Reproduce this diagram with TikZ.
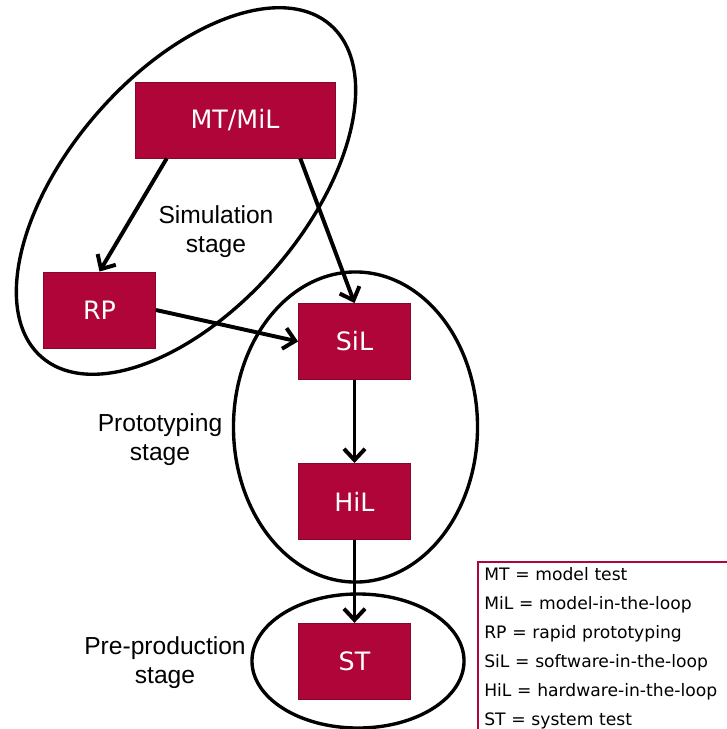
\documentclass[tikz,border=0pt]{standalone}
\usepackage{fontspec}
\setmainfont{Liberation Sans}
\newfontfamily\boxfont{DejaVu Sans}
\usetikzlibrary{arrows.meta,calc}
\usetikzlibrary{positioning}
\definecolor{crimson}{RGB}{176,5,56}
\definecolor{darkcrimson}{RGB}{130,10,45}
\tikzstyle{testbox} = [rectangle, fill=crimson, draw=darkcrimson, line width=0.6pt, minimum width=2.8cm, minimum height=1.9cm, text=white, font=\boxfont\fontsize{18}{21}\selectfont]
\tikzstyle{stagelabel} = [align=center, inner sep=0pt, font=\fontsize{17.5}{20.6}\selectfont]
\tikzstyle{stagering} = [draw=black, line width=2.4pt]
\tikzstyle{link} = [-{Straight Barb[length=8pt,width=15pt]}, line width=2.8pt]
\tikzstyle{legendbox} = [anchor=north west, align=left, inner xsep=0.15cm, inner ysep=3.8pt, text width=6.5cm, font=\boxfont\fontsize{12.2}{20.6}\selectfont]

\begin{document}
\begin{tikzpicture}[x=0.025cm, y=-0.025cm, node distance=2.075cm]
\useasboundingbox (0,0) rectangle (727,729);

% stage outlines
\draw[stagering, rotate around={49:(186,191)}] (186,191) ellipse [x radius=5.5cm, y radius=2.95cm];
\draw[stagering] (355.5,427) ellipse [x radius=3.05cm, y radius=3.875cm];
\draw[stagering] (358,661) ellipse [x radius=2.65cm, y radius=1.675cm];

% test boxes
\node (mt) [testbox, minimum width=5cm] at (235,120) {MT/MiL};
\node (rp) [testbox] at (99.5,310) {RP};
\node (sil) [testbox] at (354.5,341.5) {SiL};
\node (hil) [testbox, below=of sil] {HiL};
\node (st) [testbox, below=of hil] {ST};

% stage names
\node (simlabel) [stagelabel] at (216,232) {Simulation\\stage};
\node (protolabel) [stagelabel] at (160,440) {Prototyping\\stage};
\node (prelabel) [stagelabel] at (165,663) {Pre-production\\stage};

% flow
\draw[link] ($(mt.south west)!0.16!(mt.south east)$) -- (rp.north);
\draw[link] ($(mt.south west)!0.825!(mt.south east)$) -- (sil.north);
\draw[link] (rp.east) -- (sil.west);
\draw[link] (sil) -- (hil);
\draw[link] (hil) -- (st);

% legend
\node (legend) [legendbox] at (478,562) {MT = model test\\MiL = model-in-the-loop\\RP = rapid prototyping\\SiL = software-in-the-loop\\HiL = hardware-in-the-loop\\ST = system test};
\draw[crimson, line width=1.4pt] (legend.south west) -- (legend.north west) -- (legend.north east);
\end{tikzpicture}
\end{document}
